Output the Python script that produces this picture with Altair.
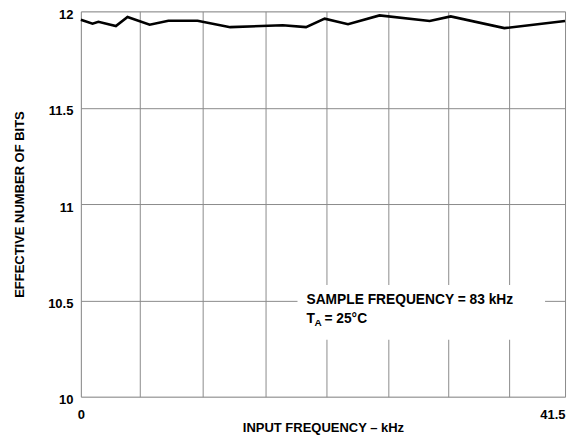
import altair as alt
import pandas as pd

# Data
freq_khz = [0, 1.0, 1.5, 3.0, 4.0, 5.9, 7.5, 10.0, 12.8, 17.3, 19.3, 20.9, 22.9, 25.6, 29.9, 31.7, 36.3, 41.5]
enob = [11.957, 11.936, 11.946, 11.924, 11.971, 11.931, 11.951, 11.951, 11.918, 11.928,
        11.918, 11.962, 11.933, 11.979, 11.950, 11.974, 11.913, 11.950]

x_grid = [0, 5.09, 10.46, 15.86, 21.08, 26.37, 31.53, 36.68, 41.5]
y_ticks = [10, 10.5, 11, 11.5, 12]
x_domain = [0, 41.5]
y_domain = [10, 12]

note_line1 = "SAMPLE FREQUENCY = 83 kHz"
note_T = "T"
note_sub = "A"
note_rest = "= 25°C"

FONT = "Liberation Sans"

df = pd.DataFrame({"f": freq_khz, "enob": enob})
one = pd.DataFrame({"k": [0]})

x_scale = alt.Scale(domain=x_domain, nice=False, zero=False)
y_scale = alt.Scale(domain=y_domain, nice=False, zero=False)

x_axis = alt.Axis(
    values=x_grid,
    labelExpr="datum.value == 0 ? '0' : (datum.value == 41.5 ? '41.5' : '')",
    labelFlush=False,
    labelAlign={"condition": {"test": "datum.value > 40", "value": "right"}, "value": "center"},
    labelFont=FONT, labelFontSize=13, labelFontWeight="bold", labelColor="black",
    labelPadding=12,
    ticks=False, domain=False,
    grid=True, gridColor="#8c8c8c", gridWidth=1, gridOpacity=1,
    title="INPUT FREQUENCY – kHz",
    titleFont=FONT, titleFontSize=13, titleFontWeight="bold", titleColor="black",
    titleX=242.5, titleY=31, titleBaseline="middle", titleAlign="center",
)
y_axis = alt.Axis(
    values=y_ticks, format="~g",
    labelFlush=False,
    labelFont=FONT, labelFontSize=13, labelFontWeight="bold", labelColor="black",
    labelPadding=8, labelOffset=3,
    ticks=False, domain=False,
    grid=True, gridColor="#8c8c8c", gridWidth=1, gridOpacity=1,
    title="EFFECTIVE NUMBER OF BITS",
    titleFont=FONT, titleFontSize=13, titleFontWeight="bold", titleColor="black",
    titleX=-61, titleY=193, titleAngle=-90, titleBaseline="middle", titleAlign="center",
)

line = alt.Chart(df).mark_line(color="black", strokeWidth=2.6, strokeJoin="miter").encode(
    x=alt.X("f:Q", scale=x_scale, axis=x_axis),
    y=alt.Y("enob:Q", scale=y_scale, axis=y_axis),
)

box = alt.Chart(one).mark_rect(color="white", opacity=1).encode(
    x=alt.value(217), x2=alt.value(465), y=alt.value(274), y2=alt.value(329)
)

txt_style = dict(font=FONT, fontWeight="bold", color="black", align="left", baseline="alphabetic")
t1 = alt.Chart(one).mark_text(fontSize=13.8, **txt_style).encode(
    x=alt.value(226), y=alt.value(293), text=alt.value(note_line1))
t2 = alt.Chart(one).mark_text(fontSize=13.8, **txt_style).encode(
    x=alt.value(226), y=alt.value(312), text=alt.value(note_T))
t3 = alt.Chart(one).mark_text(fontSize=10, **txt_style).encode(
    x=alt.value(234), y=alt.value(315), text=alt.value(note_sub))
t4 = alt.Chart(one).mark_text(fontSize=13.8, **txt_style).encode(
    x=alt.value(244), y=alt.value(312), text=alt.value(note_rest))

chart = alt.layer(box, line, t1, t2, t3, t4).properties(
    width=485, height=386,
    autosize=alt.AutoSizeParams(type="none"),
    padding={"left": 73, "top": 3, "right": 14, "bottom": 38},
).configure_view(stroke="black", strokeWidth=1.5).configure(background="white")

chart.save("out.html", embed_options={"renderer": "svg", "actions": False})
